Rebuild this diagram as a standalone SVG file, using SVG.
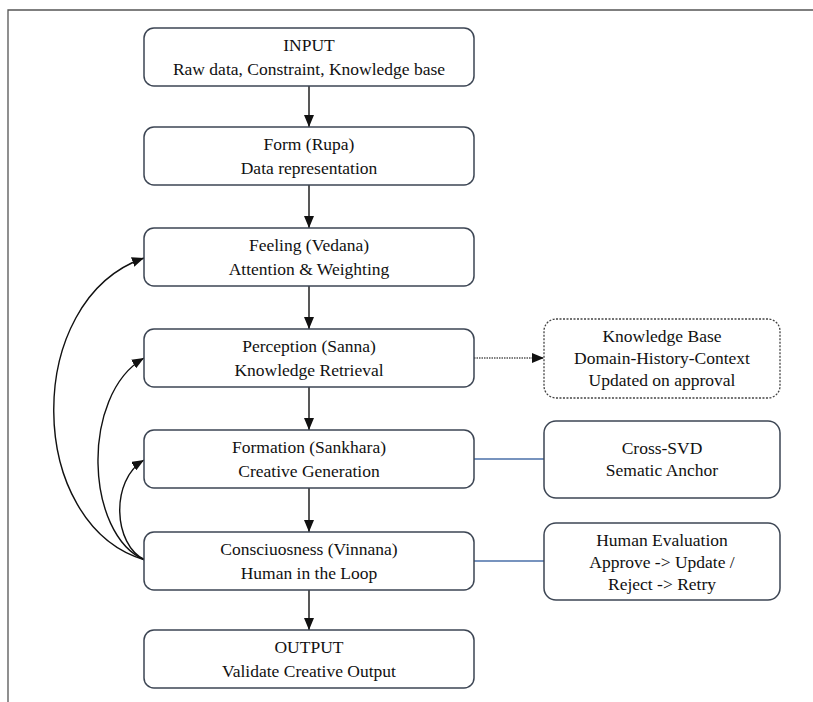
<svg xmlns="http://www.w3.org/2000/svg" width="813" height="702" viewBox="0 0 813 702">
<style>
.box{fill:#fff;stroke:#3d4654;stroke-width:1.5}
.dbox{fill:#fff;stroke:#444;stroke-width:1.3;stroke-dasharray:2 1.5}
text{font-family:"Liberation Serif","Times New Roman",serif;font-size:17.5px;fill:#111;text-anchor:middle}
.arr{fill:none;stroke:#111;stroke-width:1.4;marker-end:url(#ah)}
.blue{fill:none;stroke:#4a6fa8;stroke-width:1.4}
.dot{fill:none;stroke:#555;stroke-width:1.3;stroke-dasharray:1.5 1;marker-end:url(#ah)}
</style>
<defs>
<marker id="ah" viewBox="0 0 12 10" refX="12" refY="5" markerWidth="12" markerHeight="10" markerUnits="userSpaceOnUse" orient="auto">
<path d="M0,0 L12,5 L0,10 z" fill="#111"/>
</marker>
</defs>
<rect width="813" height="702" fill="#fff"/>
<path d="M8,702 V10 H813" fill="none" stroke="#555" stroke-width="1.3"/>
<g id="connectors">
<line class="arr" x1="309" y1="86" x2="309" y2="127"/>
<line class="arr" x1="309" y1="185" x2="309" y2="228"/>
<line class="arr" x1="309" y1="286" x2="309" y2="329"/>
<line class="arr" x1="309" y1="387" x2="309" y2="430"/>
<line class="arr" x1="309" y1="488" x2="309" y2="532"/>
<line class="arr" x1="309" y1="590" x2="309" y2="630"/>
<line class="dot" x1="474" y1="358" x2="544" y2="358"/>
<line class="blue" x1="474" y1="459" x2="544" y2="459"/>
<line class="blue" x1="474" y1="561" x2="544" y2="561"/>
<path class="arr" d="M145,560 C25,525 22,300 144,258"/>
<path class="arr" d="M145,560 C85,535 80,395 144,358"/>
<path class="arr" d="M145,560 C113,545 110,480 144,460"/>
</g>
<g id="input"><rect class="box" x="144" y="28" width="330" height="58" rx="10"/><text x="309" y="51">INPUT</text><text x="309" y="75">Raw data, Constraint, Knowledge base</text></g>
<g id="form"><rect class="box" x="144" y="127" width="330" height="58" rx="10"/><text x="309" y="150">Form (Rupa)</text><text x="309" y="174">Data representation</text></g>
<g id="feeling"><rect class="box" x="144" y="228" width="330" height="58" rx="10"/><text x="309" y="251">Feeling (Vedana)</text><text x="309" y="275">Attention &amp; Weighting</text></g>
<g id="perception"><rect class="box" x="144" y="329" width="330" height="58" rx="10"/><text x="309" y="352">Perception (Sanna)</text><text x="309" y="376">Knowledge Retrieval</text></g>
<g id="formation"><rect class="box" x="144" y="430" width="330" height="58" rx="10"/><text x="309" y="453">Formation (Sankhara)</text><text x="309" y="477">Creative Generation</text></g>
<g id="consciousness"><rect class="box" x="144" y="532" width="330" height="58" rx="10"/><text x="309" y="555">Consciuosness (Vinnana)</text><text x="309" y="579">Human in the Loop</text></g>
<g id="output"><rect class="box" x="144" y="630" width="330" height="58" rx="10"/><text x="309" y="653">OUTPUT</text><text x="309" y="677">Validate Creative Output</text></g>
<g id="kb"><rect class="dbox" x="544" y="319" width="236" height="79" rx="12"/><text x="662" y="342">Knowledge Base</text><text x="662" y="364">Domain-History-Context</text><text x="662" y="386">Updated on approval</text></g>
<g id="svd"><rect class="box" x="544" y="421" width="236" height="77" rx="12"/><text x="662" y="454">Cross-SVD</text><text x="662" y="476">Sematic Anchor</text></g>
<g id="eval"><rect class="box" x="544" y="523" width="236" height="77" rx="12"/><text x="662" y="546">Human Evaluation</text><text x="662" y="568">Approve -&gt; Update /</text><text x="662" y="590">Reject -&gt; Retry</text></g>
</svg>
